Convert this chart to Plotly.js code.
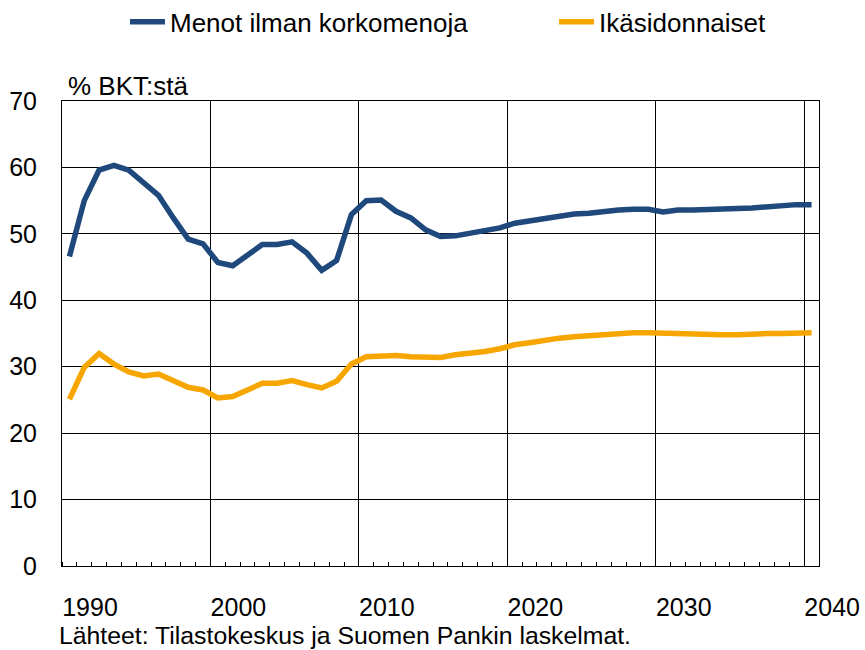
<!DOCTYPE html>
<html>
<head>
<meta charset="utf-8">
<script src="https://cdn.plot.ly/plotly-3.0.1.min.js"></script>
<style>html,body{margin:0;padding:0;background:#fff;}#chart{width:865px;height:650px;}</style>
</head>
<body>
<div id="chart"></div>
<script>
const years = [1990,1991,1992,1993,1994,1995,1996,1997,1998,1999,
  2000,2001,2002,2003,2004,2005,2006,2007,2008,2009,
  2010,2011,2012,2013,2014,2015,2016,2017,2018,2019,
  2020,2021,2022,2023,2024,2025,2026,2027,2028,2029,
  2030,2031,2032,2033,2034,2035,2036,2037,2038,2039,2040];

const menotIlmanKorkomenoja = [46.6,55.0,59.6,60.3,59.6,57.6,55.8,52.4,49.2,48.5,
  45.7,45.2,46.9,48.4,48.4,48.8,47.1,44.5,46.0,52.9,
  55.0,55.1,53.4,52.4,50.6,49.6,49.7,50.1,50.3,50.9,
  51.6,52.0,52.4,52.7,53.0,53.1,53.4,53.6,53.7,53.7,
  53.3,53.6,53.6,53.6,53.6,53.8,53.9,54.1,54.3,54.4,54.4];

const ikasidonnaiset = [25.1,29.9,32.0,30.4,29.2,28.6,28.9,27.9,26.9,26.5,
  25.3,25.5,26.6,27.5,27.5,27.9,27.3,26.8,27.8,30.4,
  31.5,31.7,31.7,31.5,31.4,31.4,31.8,32.0,32.3,32.7,
  33.3,33.6,34.0,34.3,34.5,34.7,34.9,35.1,35.1,35.1,
  35.0,35.0,35.0,34.9,34.8,34.8,35.0,35.0,35.0,35.0,35.1];

const seriesNames = ['Menot ilman korkomenoja', 'Ikäsidonnaiset'];
const xTickVals = [1989.5,1999.5,2009.5,2019.5,2029.5,2039.5];
const xTickText = ['1990','2000','2010','2020','2030','2040'];
const yTickVals = [0,10,20,30,40,50,60,70];

const FONT = 'Liberation Sans, Arial, sans-serif';

const traces = [
  {x: years, y: menotIlmanKorkomenoja, name: seriesNames[0], type: 'scatter', mode: 'lines',
   line: {color: '#1F497D', width: 5.5}, legend: 'legend'},
  {x: years, y: ikasidonnaiset, name: seriesNames[1], type: 'scatter', mode: 'lines',
   line: {color: '#F7A600', width: 5.5}, legend: 'legend2'}
];

const legendBase = {orientation: 'h', xanchor: 'left', y: 1.17, yanchor: 'middle',
  font: {family: FONT, size: 26, color: '#000'}, itemwidth: 35,
  bgcolor: 'rgba(0,0,0,0)', borderwidth: 0};

const layout = {
  width: 865, height: 650,
  margin: {l: 62, r: 46, t: 101, b: 84, autoexpand: false},
  paper_bgcolor: '#ffffff', plot_bgcolor: '#ffffff',
  font: {family: FONT, color: '#000000', size: 25},
  showlegend: true,
  legend: Object.assign({}, legendBase, {x: 0.0832}),
  legend2: Object.assign({}, legendBase, {x: 0.65}),
  xaxis: {
    type: 'linear', range: [1989.5, 2040.5], tickmode: 'array',
    tickvals: xTickVals, ticktext: xTickText,
    showgrid: true, gridcolor: '#000', gridwidth: 1, zeroline: false,
    showline: true, mirror: true, linecolor: '#000', linewidth: 1,
    ticks: '', ticklabelshift: 28, ticklabelstandoff: 19,
    tickfont: {family: FONT, size: 25, color: '#000'},
    minor: {tickmode: 'linear', tick0: 1989.5, dtick: 1, ticks: 'inside', ticklen: 4,
      tickcolor: '#000', tickwidth: 1, showgrid: false},
    fixedrange: true
  },
  yaxis: {
    range: [0, 70], tickmode: 'array', tickvals: yTickVals,
    showgrid: true, gridcolor: '#000', gridwidth: 1, zeroline: false,
    showline: true, mirror: true, linecolor: '#000', linewidth: 1,
    ticks: '', ticklabelstandoff: 19,
    tickfont: {family: FONT, size: 25, color: '#000'},
    fixedrange: true
  },
  annotations: [
    {text: '% BKT:stä', xref: 'paper', yref: 'paper', x: 0.005, y: 1, xanchor: 'left', yanchor: 'bottom',
     showarrow: false, font: {family: FONT, size: 26, color: '#000'}, yshift: -2},
    {text: 'Lähteet: Tilastokeskus ja Suomen Pankin laskelmat.', xref: 'paper', yref: 'paper',
     x: -0.007, y: 0, xanchor: 'left', yanchor: 'top', yshift: -54,
     showarrow: false, font: {family: FONT, size: 24.8, color: '#000'}}
  ]
};

Plotly.newPlot('chart', traces, layout, {staticPlot: true, displayModeBar: false});
</script>
</body>
</html>
